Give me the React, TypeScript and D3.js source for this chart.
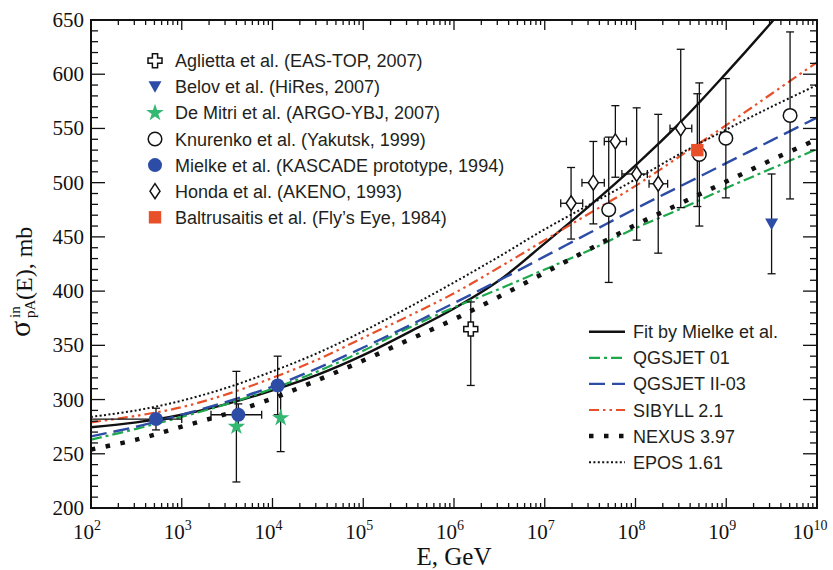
import React from 'react';
import * as d3 from 'd3';

// ---------- data ----------
const curveE = [1e2, 3.16e2, 1e3, 3.16e3, 1e4, 3.16e4, 1e5, 3.16e5, 1e6, 3.16e6, 1e7, 3.16e7, 1e8, 3.16e8, 1e9, 3.16e9, 1e10];
const fitMielke = [274.5, 279, 286, 296, 308.5, 323, 341, 362, 384, 410, 444, 479, 516, 556, 601, 648, 697];
const qgsjet01 = [263, 273, 284, 296, 310, 326, 345, 366, 385, 402, 420, 438, 458, 476, 495, 513, 531];
const qgsjetII = [266, 275, 286, 298, 312, 329, 348, 368, 389, 410, 432, 454, 476, 497, 518, 539, 560];
const sibyll = [279, 285, 293, 305, 320, 337, 357, 377, 398, 422, 447, 472, 497, 525, 553, 582, 611];
const nexus = [254, 263, 275, 287, 301, 318, 336, 355, 374, 395, 417, 439, 461, 481, 501, 521, 540];
const epos = [284, 290, 299, 311, 326, 343, 363, 385, 408, 432, 457, 480, 503, 527, 549, 570, 590];

const agliettaE = [1.53e6];
const agliettaS = [365];
const agliettaUp = [25];
const agliettaDn = [52];

const belovE = [3.16e9];
const belovS = [462];
const belovErr = [46];

const deMitriE = [4.0e3, 1.23e4];
const deMitriS = [275, 283];
const deMitriErr = [51, 31];

const knurenkoE = [5.07e7, 5.05e8, 9.9e8, 5.05e9];
const knurenkoS = [475, 526, 541, 562];
const knurenkoErr = [67, 66, 55, 77];

const mielkeE = [520, 4.2e3, 1.14e4];
const mielkeS = [282, 286, 313];
const mielkeErr = [10, 10, 27];
const mielkeElo = [1e2, 2.1e3, 1.14e4];
const mielkeEhi = [1e3, 7.6e3, 1.14e4];

const hondaE = [1.95e7, 3.43e7, 6.0e7, 1.03e8, 1.78e8, 3.15e8];
const hondaS = [481, 500, 538, 508, 499, 550];
const hondaErr = [33, 38, 33, 61, 64, 73];
const hondaElo = [1.5e7, 2.57e7, 4.53e7, 7.08e7, 1.41e8, 2.4e8];
const hondaEhi = [2.62e7, 4.53e7, 7.94e7, 1.35e8, 2.26e8, 4.17e8];

const baltE = [4.8e8];
const baltS = [530];
const baltErr = [52];

const xTickExps = [2, 3, 4, 5, 6, 7, 8, 9, 10];
const yTickLabels = [200, 250, 300, 350, 400, 450, 500, 550, 600, 650];

const pointLegend = [
  'Aglietta et al. (EAS-TOP, 2007)',
  'Belov et al. (HiRes, 2007)',
  'De Mitri et al. (ARGO-YBJ, 2007)',
  'Knurenko et al. (Yakutsk, 1999)',
  'Mielke et al. (KASCADE prototype, 1994)',
  'Honda et al. (AKENO, 1993)',
  'Baltrusaitis et al. (Fly\u2019s Eye, 1984)',
];
const lineLegend = ['Fit by Mielke et al.', 'QGSJET 01', 'QGSJET II-03', 'SIBYLL 2.1', 'NEXUS 3.97', 'EPOS 1.61'];

// ---------- styles ----------
const BLUE = '#2c4ca6';
const GREEN = '#1ea84c';
const STARGREEN = '#33b873';
const ORANGE = '#e8502a';
const SERIF = '"Liberation Serif", "Times New Roman", serif';
const SANS = '"Liberation Sans", Arial, sans-serif';

const lineStyles = [
  { color: '#111', dash: undefined as string | undefined, width: 2.4, cap: 'butt' },
  { color: GREEN, dash: '11 4 3 4', width: 2.2, cap: 'butt' },
  { color: BLUE, dash: '16 7', width: 2.4, cap: 'butt' },
  { color: ORANGE, dash: '10 4 2.5 4 2.5 4', width: 2.2, cap: 'butt' },
  { color: '#111', dash: '4.5 10.5', width: 4.5, cap: 'butt' },
  { color: '#111', dash: '2 2.4', width: 2, cap: 'butt' },
];
const lineData = [fitMielke, qgsjet01, qgsjetII, sibyll, nexus, epos];

const L = 91, R = 817, T = 20, B = 508;

function plusPath(a: number, b: number) {
  return `M${-a},${-b}H${a}V${-a}H${b}V${a}H${a}V${b}H${-a}V${a}H${-b}V${-a}H${-a}Z`;
}

function Marker({ kind, cx, cy }: { kind: string; cx: number; cy: number }) {
  const t = `translate(${cx},${cy})`;
  switch (kind) {
    case 'plus':
      return <path d={plusPath(2.6, 7)} transform={t} fill="#fff" stroke="#111" strokeWidth={1.5} />;
    case 'tri':
      return <path d="M-6.5,-5.5L6.5,-5.5L0,6Z" transform={t} fill={BLUE} />;
    case 'star':
      return <path d={d3.symbol(d3.symbolStar, 95)() as string} transform={t} fill={STARGREEN} />;
    case 'ocircle':
      return <circle cx={cx} cy={cy} r={6.8} fill="#fff" stroke="#111" strokeWidth={1.5} />;
    case 'fcircle':
      return <circle cx={cx} cy={cy} r={7} fill={BLUE} />;
    case 'diamond':
      return <path d="M0,-7.5L5,0L0,7.5L-5,0Z" transform={t} fill="#fff" stroke="#111" strokeWidth={1.5} />;
    case 'square':
      return <rect x={cx - 6.2} y={cy - 6.2} width={12.4} height={12.4} fill={ORANGE} />;
    default:
      return null;
  }
}

export default function App() {
  const x = d3.scaleLog().domain([1e2, 1e10]).range([L, R]);
  const y = d3.scaleLinear().domain([200, 650]).range([B, T]);

  const xt = x.ticks();
  const yt = d3.range(200, 651, 10);

  const line = (vals: number[]) =>
    d3
      .line<number>()
      .x((_, i) => x(curveE[i]))
      .y((d) => y(d))
      .curve(d3.curveCatmullRom.alpha(0.5))(vals) as string;

  const cap = 4;
  const vErr = (E: number, s: number, up: number, dn: number, key: string) => {
    const px = x(E);
    const y1 = y(s + up), y2 = y(s - dn);
    return (
      <g key={key} stroke="#111" strokeWidth={1.3}>
        <line x1={px} x2={px} y1={y1} y2={y2} />
        <line x1={px - cap} x2={px + cap} y1={y1} y2={y1} />
        <line x1={px - cap} x2={px + cap} y1={y2} y2={y2} />
      </g>
    );
  };
  const hErr = (Elo: number, Ehi: number, s: number, key: string) => {
    if (Elo === Ehi) return null;
    const x1 = x(Elo), x2 = x(Ehi), py = y(s);
    return (
      <g key={key} stroke="#111" strokeWidth={1.3}>
        <line x1={x1} x2={x2} y1={py} y2={py} />
        <line x1={x1} x2={x1} y1={py - cap} y2={py + cap} />
        <line x1={x2} x2={x2} y1={py - cap} y2={py + cap} />
      </g>
    );
  };

  const legendKinds = ['plus', 'tri', 'star', 'ocircle', 'fcircle', 'diamond', 'square'];

  return (
    <svg width={833} height={570} viewBox="0 0 833 570" style={{ display: 'block', position: 'absolute', left: 0, top: 0, background: '#fff' }}>
      <defs>
        <clipPath id="plotClip">
          <rect x={L} y={T} width={R - L} height={B - T} />
        </clipPath>
      </defs>
      <rect x={0} y={0} width={833} height={570} fill="#fff" />

      {/* curves */}
      <g clipPath="url(#plotClip)" fill="none">
        {lineData.map((vals, i) => (
          <path key={i} d={line(vals)} stroke={lineStyles[i].color} strokeWidth={lineStyles[i].width}
            strokeDasharray={lineStyles[i].dash} />
        ))}
      </g>

      {/* error bars */}
      <g clipPath="url(#plotClip)">
        {agliettaE.map((E, i) => vErr(E, agliettaS[i], agliettaUp[i], agliettaDn[i], 'a' + i))}
        {belovE.map((E, i) => vErr(E, belovS[i], belovErr[i], belovErr[i], 'b' + i))}
        {deMitriE.map((E, i) => vErr(E, deMitriS[i], deMitriErr[i], deMitriErr[i], 'd' + i))}
        {knurenkoE.map((E, i) => vErr(E, knurenkoS[i], knurenkoErr[i], knurenkoErr[i], 'k' + i))}
        {mielkeE.map((E, i) => vErr(E, mielkeS[i], mielkeErr[i], mielkeErr[i], 'm' + i))}
        {mielkeE.map((_, i) => hErr(mielkeElo[i], mielkeEhi[i], mielkeS[i], 'mh' + i))}
        {hondaE.map((E, i) => vErr(E, hondaS[i], hondaErr[i], hondaErr[i], 'h' + i))}
        {hondaE.map((_, i) => hErr(hondaElo[i], hondaEhi[i], hondaS[i], 'hh' + i))}
        {baltE.map((E, i) => vErr(E, baltS[i], baltErr[i], baltErr[i], 'f' + i))}
      </g>

      {/* markers */}
      <g>
        {deMitriE.map((E, i) => <Marker key={'dm' + i} kind="star" cx={x(E)} cy={y(deMitriS[i])} />)}
        {mielkeE.map((E, i) => <Marker key={'mm' + i} kind="fcircle" cx={x(E)} cy={y(mielkeS[i])} />)}
        {agliettaE.map((E, i) => <Marker key={'am' + i} kind="plus" cx={x(E)} cy={y(agliettaS[i])} />)}
        {hondaE.map((E, i) => <Marker key={'hm' + i} kind="diamond" cx={x(E)} cy={y(hondaS[i])} />)}
        {knurenkoE.map((E, i) => <Marker key={'km' + i} kind="ocircle" cx={x(E)} cy={y(knurenkoS[i])} />)}
        {baltE.map((E, i) => <Marker key={'fm' + i} kind="square" cx={x(E)} cy={y(baltS[i])} />)}
        {belovE.map((E, i) => <Marker key={'bm' + i} kind="tri" cx={x(E)} cy={y(belovS[i])} />)}
      </g>

      {/* frame & ticks */}
      <g stroke="#111" strokeWidth={1.3}>
        {xt.map((t, i) => {
          const major = Math.abs(Math.log10(t) - Math.round(Math.log10(t))) < 1e-6;
          const len = major ? 10 : 5;
          const px = x(t);
          return (
            <g key={'xt' + i}>
              <line x1={px} x2={px} y1={B} y2={B - len} />
              <line x1={px} x2={px} y1={T} y2={T + len} />
            </g>
          );
        })}
        {yt.map((t, i) => {
          const major = t % 50 === 0;
          const len = major ? 14 : 7;
          const py = y(t);
          return (
            <g key={'yt' + i}>
              <line x1={L} x2={L + len} y1={py} y2={py} />
              <line x1={R} x2={R - len} y1={py} y2={py} />
            </g>
          );
        })}
      </g>
      <rect x={L} y={T} width={R - L} height={B - T} fill="none" stroke="#111" strokeWidth={2} />

      {/* tick labels */}
      <g fontFamily={SERIF} fill="#111">
        {yTickLabels.map((v) => (
          <text key={'yl' + v} x={84} y={y(v) + 7} fontSize={21} textAnchor="end">{v}</text>
        ))}
        {xTickExps.map((e) => (
          <text key={'xl' + e} x={x(Math.pow(10, e)) - (e >= 10 ? 7 : 4)} y={539} fontSize={21} textAnchor="middle">
            10<tspan dy={-9} fontSize={14}>{e}</tspan>
          </text>
        ))}
        <text x={(L + R) / 2} y={565} fontSize={25} textAnchor="middle">E, GeV</text>
        <g transform="translate(32,337) rotate(-90)">
          <text x={0} y={-2} fontSize={30}>σ</text>
          <text x={19} y={-12} fontSize={15}>in</text>
          <text x={19} y={3} fontSize={15}>pA</text>
          <text x={37} y={0} fontSize={24}>(E), mb</text>
        </g>
      </g>

      {/* point legend */}
      <g fontFamily={SANS} fontSize={18} fill="#231f20">
        {pointLegend.map((lab, i) => {
          const cy = 60.7 + i * 26.1;
          return (
            <g key={'pl' + i}>
              <Marker kind={legendKinds[i]} cx={155} cy={cy} />
              <text x={175} y={cy + 6.5}>{lab}</text>
            </g>
          );
        })}
      </g>

      {/* line legend */}
      <g fontFamily={SANS} fontSize={18} fill="#231f20">
        {lineLegend.map((lab, i) => {
          const cy = 331.7 + i * 26.1;
          const st = lineStyles[i];
          return (
            <g key={'ll' + i}>
              <line x1={589} x2={625} y1={cy} y2={cy} stroke={st.color} strokeWidth={st.width} strokeDasharray={st.dash} />
              <text x={633} y={cy + 6.5}>{lab}</text>
            </g>
          );
        })}
      </g>
    </svg>
  );
}
